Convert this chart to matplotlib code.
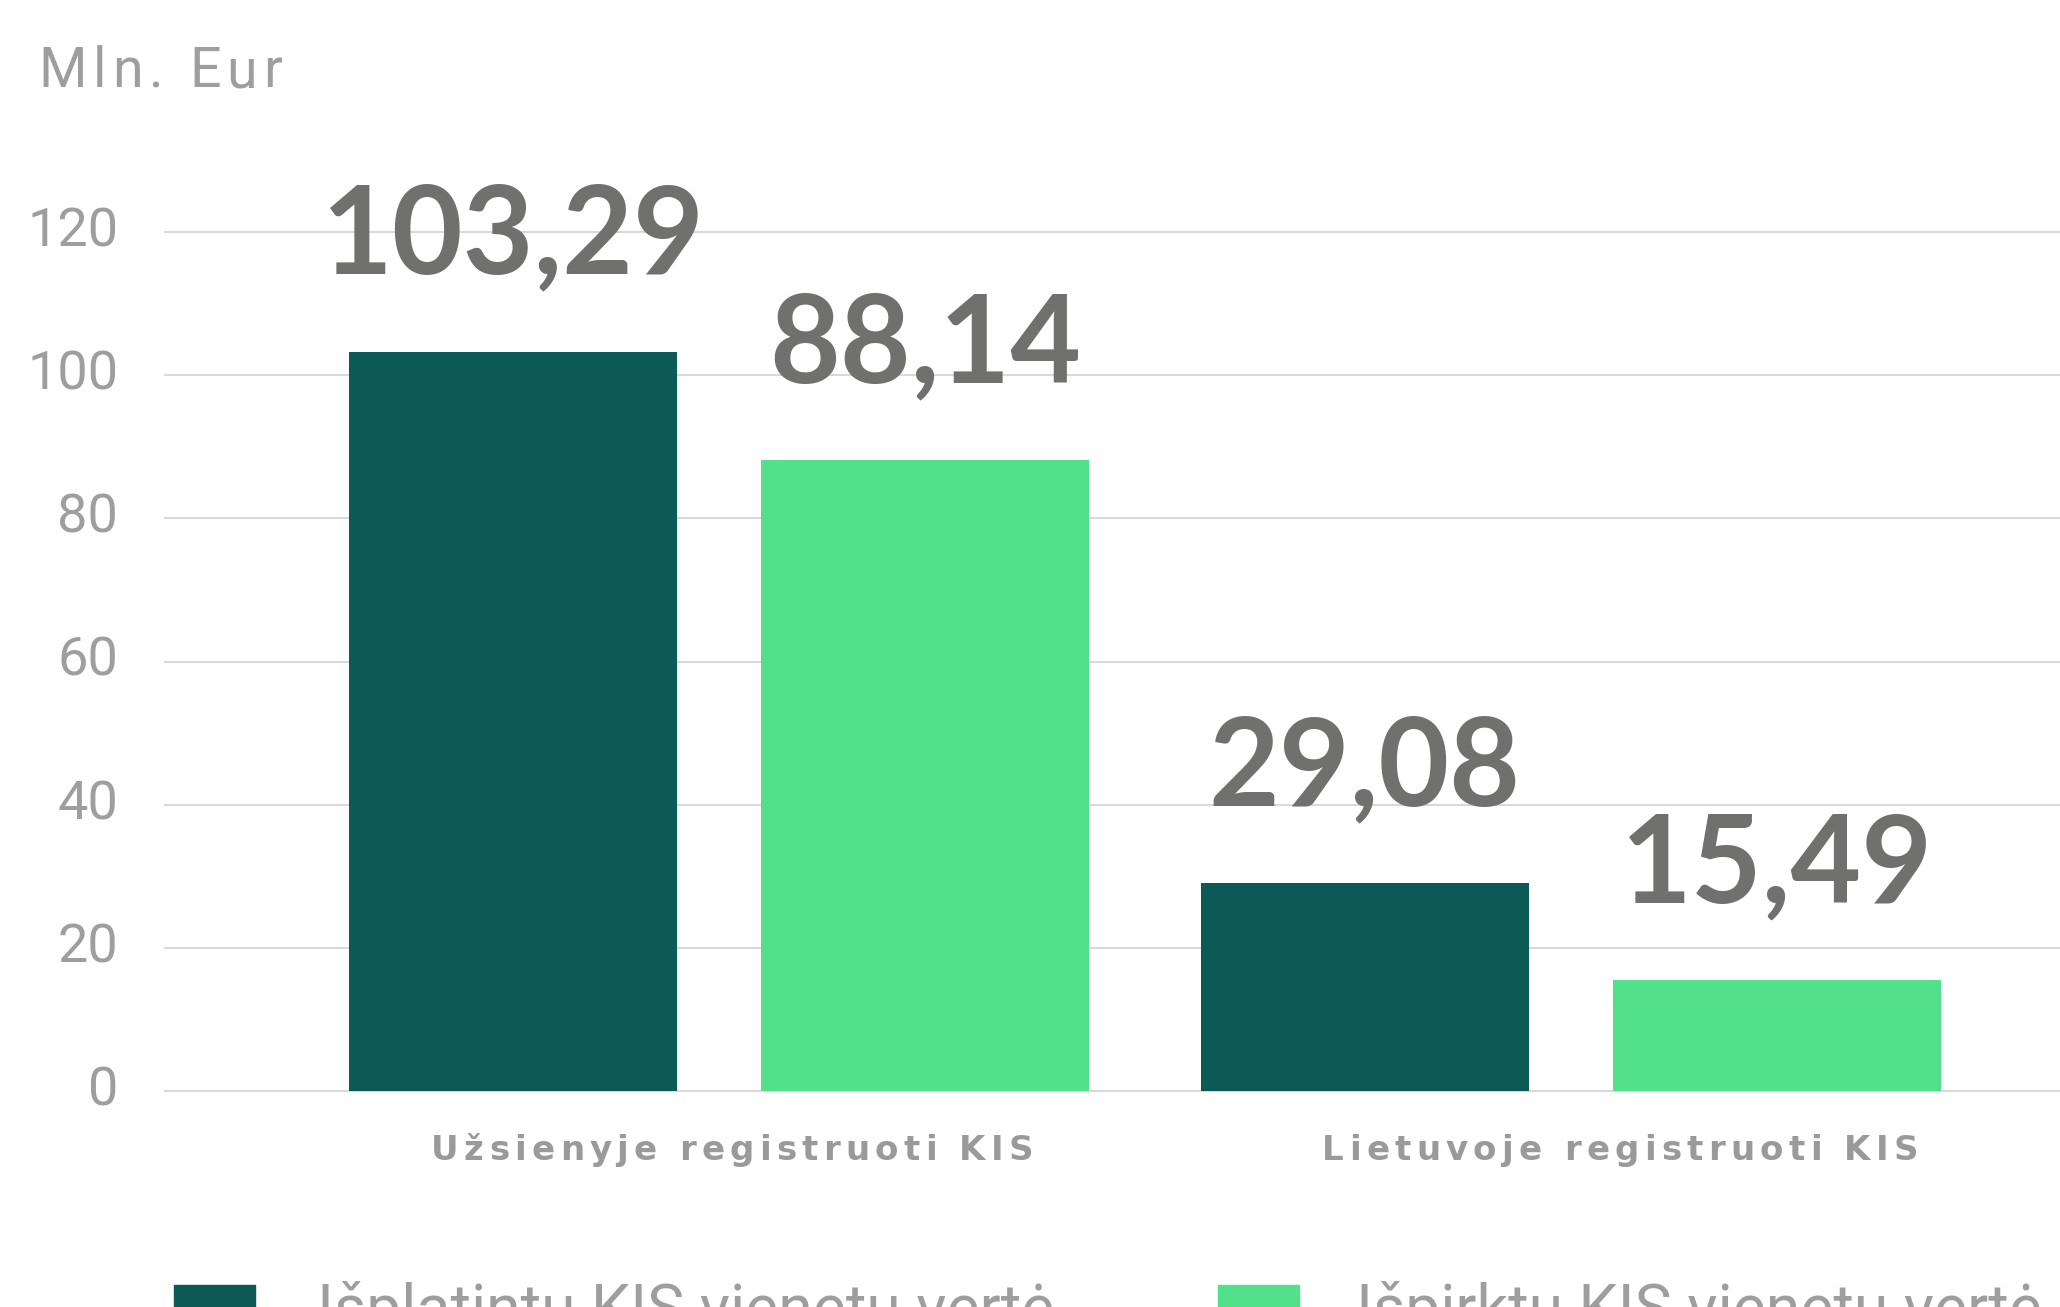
import matplotlib
matplotlib.use("Agg")
import matplotlib.pyplot as plt
from matplotlib.font_manager import FontProperties, findfont
from matplotlib.ft2font import FT2Font
from matplotlib.patches import Rectangle
import numpy as np

# ---------------- data ----------------
categories = ["Užsienyje registruoti KIS", "Lietuvoje registruoti KIS"]
series_names = ["Išplatintų KIS vienetų vertė", "Išpirktų KIS vienetų vertė"]
issued = [103.29, 29.08]
redeemed = [88.14, 15.49]
yticks = [0, 20, 40, 60, 80, 100, 120]
unit_label = "Mln. Eur"

# ---------------- style ----------------
DARK = "#0B5A56"
LIGHT = "#52E08A"
VALUE_C = "#70706E"
TICK_C = "#9E9E9E"
CAT_C = "#9A9A9A"
GRID_C = "#D9D9D9"
FONT = "Roboto"
VAL_FONT = "Lato"
CAT_FONT = "DejaVu Sans"

W, H, DPI = 2060, 1307, 100
fig = plt.figure(figsize=(W / DPI, H / DPI), dpi=DPI)

ppu = 859 / 120.0           # pixels per unit on y
y0_px = 1091                # pixel row (from top) of value 0
ylo, yhi = -1.5, 125
ax_bottom = H - (y0_px + (-ylo) * ppu)
ax_height = (yhi - ylo) * ppu
ax = fig.add_axes([164 / W, ax_bottom / H, 1 - 164 / W, ax_height / H])

x = np.arange(len(categories))
width = 0.385
off = 0.242
b1 = ax.bar(x - off, issued, width, color=DARK, zorder=2)
b2 = ax.bar(x + off, redeemed, width, color=LIGHT, zorder=2)
ax.set_xlim(-0.652, 1.5746)
ax.set_ylim(ylo, yhi)

ax.set_yticks(yticks)
ax.set_yticklabels([str(t) for t in yticks])
ax.tick_params(axis="y", length=0, pad=33, labelsize=39, labelcolor=TICK_C)
for lab in ax.get_yticklabels():
    lab.set_fontfamily(FONT)
    lab.set_fontweight("normal")
    lab.set_verticalalignment("center")
ax.set_xticks([])
ax.grid(axis="y", color=GRID_C, linewidth=1.5, zorder=0)
ax.set_axisbelow(True)
for s in ax.spines.values():
    s.set_visible(False)


def fmt(v):
    return f"{v:.2f}".replace(".", ",")


for cont, vals in ((b1, issued), (b2, redeemed)):
    for rect, v in zip(cont, vals):
        ax.annotate(fmt(v), xy=(rect.get_x() + rect.get_width() / 2, v),
                    xytext=(0, 56), textcoords="offset points",
                    ha="center", va="baseline", fontsize=88,
                    fontweight="bold", family=VAL_FONT, color=VALUE_C,
                    annotation_clip=False)


def tracked_text(x_px, y_px, s, size_pt, tracking_px, ha="left",
                 weight="normal", color="k", family=FONT):
    fp = FontProperties(family=family, weight=weight)
    ft = FT2Font(findfont(fp))
    ft.set_size(size_pt, DPI)
    adv = [ft.load_char(ord(c)).linearHoriAdvance / 65536 for c in s]
    total = sum(adv) + tracking_px * (len(s) - 1)
    cur = x_px - total / 2 if ha == "center" else x_px
    for c, a in zip(s, adv):
        if not c.isspace():
            fig.text(cur / W, (H - y_px) / H, c, fontproperties=fp,
                     fontsize=size_pt, ha="left", va="baseline", color=color)
        cur += a + tracking_px


# unit label
tracked_text(38, 87, unit_label, 40, 6, weight="normal", color=TICK_C)

# category labels
label_x = [0.015, 1.058]
for lx, cat in zip(label_x, categories):
    px = ax.transData.transform((lx, 0))[0]
    tracked_text(px, 1160, cat, 24.5, 5.3, ha="center", weight="bold",
                 color=CAT_C, family=CAT_FONT)

# legend (cut at the bottom edge, as in the reference)
leg_items = [(174, 317, DARK, series_names[0]),
             (1218, 1356, LIGHT, series_names[1])]
for sx, tx, col, name in leg_items:
    fig.add_artist(Rectangle((sx / W, (H - 1285 - 81) / H), 81 / W, 81 / H,
                             transform=fig.transFigure, color=col))
    fig.text(tx / W, (H - 1329) / H, name, fontsize=45, family=FONT,
             fontweight="normal", color=TICK_C, ha="left", va="baseline")

fig.savefig("out.png", dpi=DPI)
